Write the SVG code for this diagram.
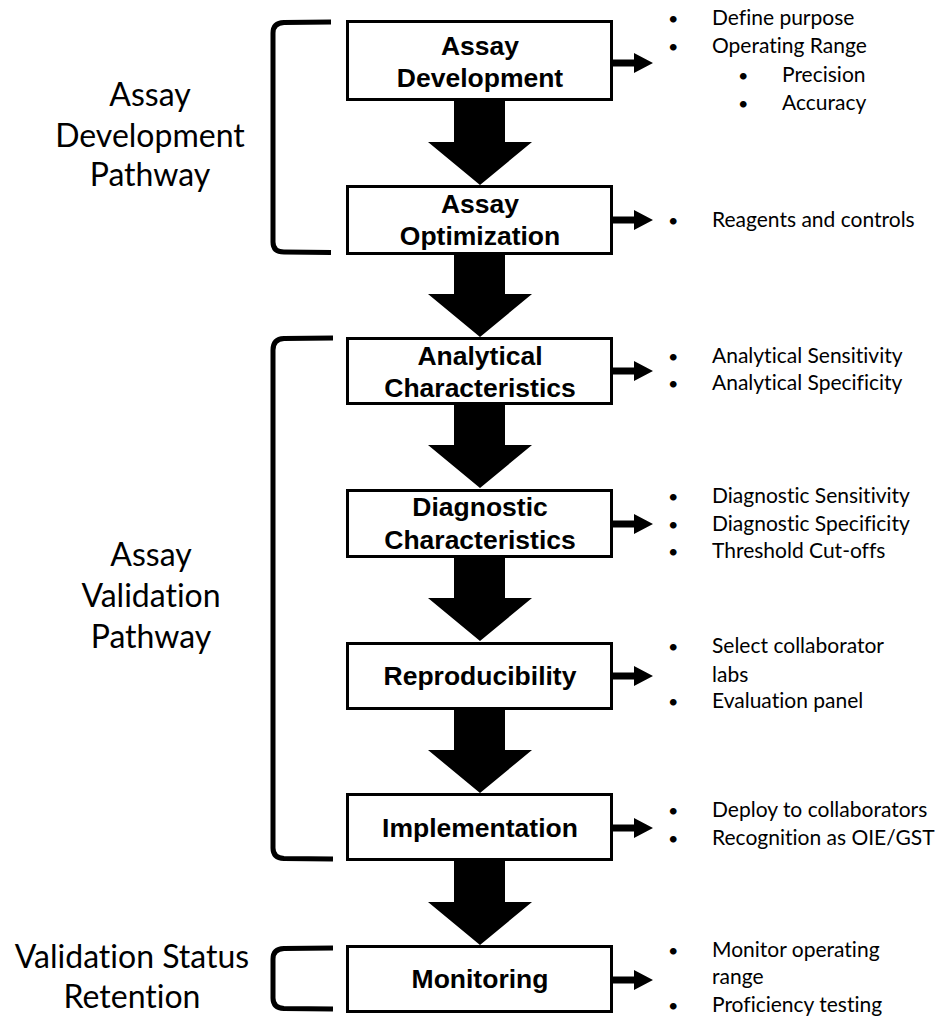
<svg xmlns="http://www.w3.org/2000/svg" width="939" height="1020" viewBox="0 0 939 1020">
<defs>
<style>
.box{fill:#fff;stroke:#000;stroke-width:3}
.bt{font-family:"Liberation Sans",Arial,sans-serif;font-weight:bold;font-size:26.5px;text-anchor:middle;fill:#000}
.lt{font-family:Lato,"Open Sans",sans-serif;font-size:32px;text-anchor:middle;fill:#000;font-variant-ligatures:none;font-feature-settings:"liga" 0,"clig" 0,"dlig" 0}
.rt{font-family:Lato,"Open Sans",sans-serif;font-size:21px;fill:#000;font-variant-ligatures:none;font-feature-settings:"liga" 0,"clig" 0,"dlig" 0}
.bu{font-family:Lato,"Open Sans",sans-serif;font-size:18px;fill:#000}
.br{fill:none;stroke:#000;stroke-width:5}
</style>
<g id="downArrow"><polygon points="454,0 505,0 505,41 532,41 480,84 428,41 454,41"/></g>
<g id="rightArrow"><polygon points="613,-3.5 634,-3.5 634,-10 653,0 634,10 634,3.5 613,3.5"/></g>
</defs>
<rect width="939" height="1020" fill="#fff"/>

<g id="connectors">
<use href="#downArrow" y="101"/>
<use href="#downArrow" y="253"/>
<use href="#downArrow" y="404"/>
<use href="#downArrow" y="557"/>
<use href="#downArrow" y="709"/>
<use href="#downArrow" y="861"/>
<use href="#rightArrow" y="63"/>
<use href="#rightArrow" y="220"/>
<use href="#rightArrow" y="371"/>
<use href="#rightArrow" y="524"/>
<use href="#rightArrow" y="676"/>
<use href="#rightArrow" y="828"/>
<use href="#rightArrow" y="980"/>
</g>

<g id="brackets">
<path class="br" d="M331,22 L284,22.5 Q273,23 273,33 L273,242 Q273,252 284,252 L331,252.5"/>
<path class="br" d="M333,338 L284,338.5 Q273,339 273,350 L273,848 Q273,858 284,858.5 L333,859"/>
<path class="br" d="M333,948 L284,948.5 Q273,949 273,959 L273,998 Q273,1008 284,1008.5 L333,1009"/>
</g>

<g id="labels-left">
<text class="lt" x="150" y="106">Assay</text>
<text class="lt" x="150" y="147">Development</text>
<text class="lt" x="150" y="186">Pathway</text>
<text class="lt" x="151" y="566">Assay</text>
<text class="lt" x="151" y="607">Validation</text>
<text class="lt" x="151" y="648">Pathway</text>
<text class="lt" x="132" y="968">Validation Status</text>
<text class="lt" x="132" y="1008">Retention</text>
</g>

<g id="n1"><rect class="box" x="347.5" y="21.5" width="264" height="78"/><text class="bt" x="480" y="55">Assay</text><text class="bt" x="480" y="87">Development</text></g>
<g id="n2"><rect class="box" x="347.5" y="186.5" width="264" height="67"/><text class="bt" x="480" y="213">Assay</text><text class="bt" x="480" y="245">Optimization</text></g>
<g id="n3"><rect class="box" x="347.5" y="338.5" width="264" height="65"/><text class="bt" x="480" y="365">Analytical</text><text class="bt" x="480" y="397">Characteristics</text></g>
<g id="n4"><rect class="box" x="347.5" y="490.5" width="264" height="66"/><text class="bt" x="480" y="516">Diagnostic</text><text class="bt" x="480" y="549">Characteristics</text></g>
<g id="n5"><rect class="box" x="347.5" y="643.5" width="264" height="65"/><text class="bt" x="480" y="685">Reproducibility</text></g>
<g id="n6"><rect class="box" x="347.5" y="794.5" width="264" height="65"/><text class="bt" x="480" y="837">Implementation</text></g>
<g id="n7"><rect class="box" x="347.5" y="946.5" width="264" height="65"/><text class="bt" x="480" y="988">Monitoring</text></g>

<g id="notes">
<g class="bu">
<text x="668" y="25">•</text><text x="668" y="53">•</text><text x="738" y="82">•</text><text x="738" y="110">•</text>
<text x="668" y="227">•</text><text x="668" y="363">•</text><text x="668" y="390">•</text>
<text x="668" y="503">•</text><text x="668" y="531">•</text><text x="668" y="558">•</text>
<text x="668" y="653">•</text><text x="668" y="708">•</text>
<text x="668" y="817">•</text><text x="668" y="845">•</text>
<text x="668" y="957">•</text><text x="668" y="1012">•</text>
</g>
<g class="rt">
<text x="712" y="25">Define purpose</text>
<text x="712" y="53">Operating Range</text>
<text x="782" y="82">Precision</text>
<text x="782" y="110">Accuracy</text>
<text x="712" y="227">Reagents and controls</text>
<text x="712" y="363">Analytical Sensitivity</text>
<text x="712" y="390">Analytical Specificity</text>
<text x="712" y="503">Diagnostic Sensitivity</text>
<text x="712" y="531">Diagnostic Specificity</text>
<text x="712" y="558">Threshold Cut-offs</text>
<text x="712" y="653">Select collaborator</text>
<text x="712" y="682">labs</text>
<text x="712" y="708">Evaluation panel</text>
<text x="712" y="817">Deploy to collaborators</text>
<text x="712" y="845">Recognition as OIE/GST</text>
<text x="712" y="957">Monitor operating</text>
<text x="712" y="984">range</text>
<text x="712" y="1012">Proficiency testing</text>
</g>
</g>
</svg>
